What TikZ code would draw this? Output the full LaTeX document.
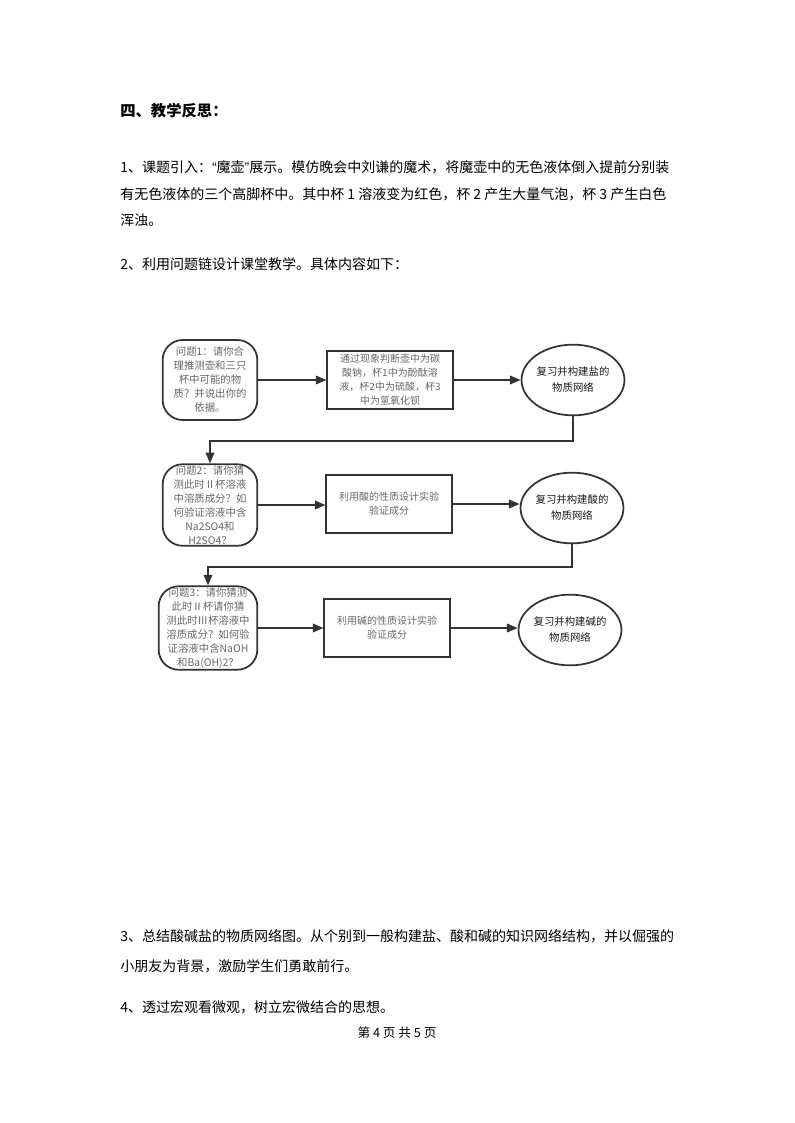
\documentclass[tikz,border=0pt]{standalone}
\usepackage{fontspec}
\setmainfont{Noto Sans CJK SC}
\newfontfamily\latinq{Liberation Sans}
\usetikzlibrary{shapes.geometric,arrows.meta}

\tikzset{
  body/.style={anchor=west, inner sep=0pt, font=\fontsize{10.5}{14}\selectfont, text height=9pt, text depth=2pt},
  ques/.style={draw=black!80, line width=1.3pt, rounded corners=15pt, align=center, text=black!60,
    font=\fontsize{7.8}{10.5}\selectfont, minimum width=71pt, minimum height=60pt, inner sep=1pt},
  proc/.style={draw=black!80, line width=1.3pt, align=center, text=black!60,
    font=\fontsize{7.5}{10.5}\selectfont, minimum width=94pt, minimum height=43pt, inner sep=1pt},
  goal/.style={draw=black!80, line width=1.3pt, ellipse, align=center, text=black!90,
    font=\fontsize{7.8}{12}\selectfont, minimum width=75pt, minimum height=53pt, inner sep=0pt},
  flow/.style={draw=black!80, line width=1.2pt, -{Triangle[length=8pt,width=6.5pt]}}
}

\begin{document}
\begin{tikzpicture}[x=0.75pt,y=-0.75pt]
\useasboundingbox (0,0) rectangle (794,1123);
% text of the page
\node[body,font=\bfseries\fontsize{11.5}{14}\selectfont] (head) at (120,112) {四、教学反思：};
\node[body] (l1a) at (120,168) {1、课题引入：{\latinq “}魔壶{\latinq ”}展示。模仿晚会中刘谦的魔术，将魔壶中的无色液体倒入提前分别装};
\node[body] (l1b) at (120,195) {有无色液体的三个高脚杯中。其中杯 1 溶液变为红色，杯 2 产生大量气泡，杯 3 产生白色};
\node[body] (l1c) at (120,221) {浑浊。};
\node[body] (l2a) at (120,265) {2、利用问题链设计课堂教学。具体内容如下：};
\node[body] (l3a) at (120,937) {3、总结酸碱盐的物质网络图。从个别到一般构建盐、酸和碱的知识网络结构，并以倔强的};
\node[body] (l3b) at (120,967) {小朋友为背景，激励学生们勇敢前行。};
\node[body] (l4a) at (120,1008) {4、透过宏观看微观，树立宏微结合的思想。};
\node[inner sep=0pt, font=\fontsize{9.5}{11}\selectfont] (foot) at (397,1033) {第 4 页 共 5 页};

% first row: salt
\node[ques] (q1) at (210,380) {问题1：请你合\\理推测壶和三只\\杯中可能的物\\质？并说出你的\\依据。};
\node[proc] (p1) at (390,380) {通过现象判断壶中为碳\\酸钠，杯1中为酚酞溶\\液，杯2中为硫酸，杯3\\中为氢氧化钡};
\node[goal] (e1) at (573,380) {复习并构建盐的\\物质网络};
% second row: acid
\node[ques] (q2) at (210,505) {问题2：请你猜\\测此时Ⅱ杯溶液\\中溶质成分？如\\何验证溶液中含\\Na2SO4和\\H2SO4？};
\node[proc] (p2) at (389,504) {利用酸的性质设计实验\\验证成分};
\node[goal] (e2) at (572,508) {复习并构建酸的\\物质网络};
% third row: base
\node[ques, minimum width=74pt] (q3) at (208,628) {问题3：请你猜测\\此时Ⅱ杯请你猜\\测此时Ⅲ杯溶液中\\溶质成分？如何验\\证溶液中含NaOH\\和Ba(OH)2？};
\node[proc] (p3) at (387,628) {利用碱的性质设计实验\\验证成分};
\node[goal] (e3) at (570,630) {复习并构建碱的\\物质网络};

\draw[flow] (q1) -- (p1);
\draw[flow] (p1) -- (p1 -| e1.west);
\draw[flow] (e1.south) -- ++(0,25) -| (q2.north);
\draw[flow] (q2) -- (q2 -| p2.west);
\draw[flow] (p2.east) -- (p2.east -| e2.west);
\draw[flow] (e2.south) -- ++(0,23) -| (q3.north);
\draw[flow] (q3) -- (p3);
\draw[flow] (p3.east) -- (p3.east -| e3.west);
\end{tikzpicture}
\end{document}
